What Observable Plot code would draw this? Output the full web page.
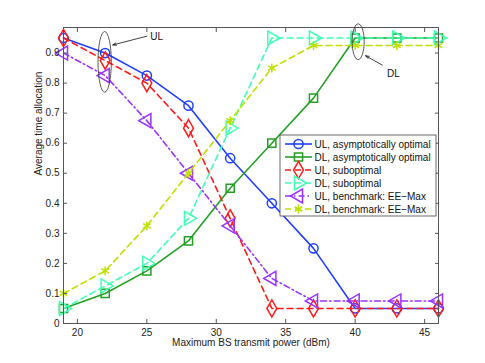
<!DOCTYPE html>
<html>
<head>
<meta charset="utf-8">
<script src="https://cdn.jsdelivr.net/npm/d3@7"></script>
<script src="https://cdn.jsdelivr.net/npm/@observablehq/plot@0.6"></script>
<style>
  html, body { margin: 0; padding: 0; background: #fff; }
  #chart { width: 485px; height: 363px; }
</style>
</head>
<body>
<div id="chart"></div>
<script>
// ---- data ----
const power = [19, 22, 25, 28, 31, 34, 37, 40, 43, 46];
const ulAsym   = [0.95, 0.90, 0.825, 0.725, 0.55, 0.40, 0.25, 0.05, 0.05, 0.05];
const dlAsym   = [0.05, 0.10, 0.175, 0.275, 0.45, 0.60, 0.75, 0.95, 0.95, 0.95];
const ulSub    = [0.95, 0.875, 0.80, 0.65, 0.35, 0.05, 0.05, 0.05, 0.05, 0.05];
const dlSub    = [0.05, 0.125, 0.20, 0.35, 0.65, 0.95, 0.95, 0.95, 0.95, 0.95];
const ulBench  = [0.90, 0.825, 0.675, 0.50, 0.325, 0.15, 0.075, 0.075, 0.075, 0.075];
const dlBench  = [0.10, 0.175, 0.325, 0.50, 0.675, 0.85, 0.925, 0.925, 0.925, 0.925];
const seriesNames = [
  "UL, asymptotically optimal",
  "DL, asymptotically optimal",
  "UL, suboptimal",
  "DL, suboptimal",
  "UL, benchmark: EE\u2212Max",
  "DL, benchmark: EE\u2212Max"
];
const xTicks = [20, 25, 30, 35, 40, 45];
const yTicks = [0, 0.1, 0.2, 0.3, 0.4, 0.5, 0.6, 0.7, 0.8, 0.9];
const xLabel = "Maximum BS transmit power (dBm)";
const yLabel = "Average time allocation";
// annotations: ellipse centre / radii in data units, arrows, labels
const ellipseCx = [22, 40.25];
const ellipseCy = [0.869, 0.936];
const ellipseRx = [0.48, 0.44];
const ellipseRy = [0.101, 0.06];
const arrowX1 = [25.0, 41.95];
const arrowY1 = [0.956, 0.86];
const arrowX2 = [22.55, 40.75];
const arrowY2 = [0.927, 0.891];
const annoText = ["UL", "DL"];
const annoX = [25.25, 42.3];
const annoY = [0.955, 0.83];

// ---- styles ----
const colors = ["#2040ff", "#23a023", "#ff1a1a", "#40ffb4", "#9a33ff", "#bfe000"];
const dashes = [null, null, "6,4", "6,4", "6,3,1.5,3", "6,4"];
const symbols = ["circle", "square", "diamond", "triangle", "triangle", "asterisk"];
const rotations = [0, 0, 0, 90, -90, 0];
const radii = [4.6, 4.6, 5.2, 5.2, 5.2, 4.2];

const allSeries = [ulAsym, dlAsym, ulSub, dlSub, ulBench, dlBench];
const tables = allSeries.map((vals, i) =>
  power.map((p, j) => ({x: p, y: vals[j], s: seriesNames[i]})));

const font = "Liberation Sans, Arial, Helvetica, sans-serif";
const frameColor = "#555";

const marks = [];
tables.forEach((rows, i) => {
  marks.push(Plot.line(rows, {x: "x", y: "y", stroke: colors[i], strokeWidth: 1.6,
    strokeDasharray: dashes[i] || undefined}));
  marks.push(Plot.dot(rows, {x: "x", y: "y", symbol: symbols[i], r: radii[i],
    stroke: colors[i], fill: "none", strokeWidth: 1.5, rotate: rotations[i]}));
});

const annoRows = annoText.map((t, i) => ({t, x: annoX[i], y: annoY[i],
  x1: arrowX1[i], y1: arrowY1[i], x2: arrowX2[i], y2: arrowY2[i]}));

const chart = Plot.plot({
  width: 485,
  height: 363,
  marginLeft: 63,
  marginRight: 47,
  marginTop: 27,
  marginBottom: 40,
  style: {fontFamily: font, fontSize: "10px", background: "#fff", color: "#222"},
  x: {domain: [19, 46], axis: null},
  y: {domain: [0, 0.985], axis: null},
  marks: [
    ...marks,
    Plot.arrow(annoRows, {x1: "x1", y1: "y1", x2: "x2", y2: "y2", stroke: "#111",
      strokeWidth: 0.8, headLength: 7, headAngle: 40}),
    Plot.text(annoRows, {x: "x", y: "y", text: "t", textAnchor: "start", fontSize: 10, fill: "#111"}),
    Plot.frame({stroke: frameColor, strokeWidth: 1}),
    // tick labels
    Plot.axisX({ticks: xTicks, tickSize: 0, tickPadding: 5, label: null, anchor: "bottom", fontSize: 10}),
    Plot.axisY({ticks: yTicks, tickSize: 0, tickPadding: 4, label: null, anchor: "left",
      tickFormat: d3.format(""), fontSize: 10}),
    // inward ticks on all four sides
    Plot.axisX({ticks: xTicks, tickSize: 4, dy: -4, anchor: "bottom", tickFormat: () => "", label: null, stroke: frameColor}),
    Plot.axisX({ticks: xTicks, tickSize: 4, dy: 4, anchor: "top", tickFormat: () => "", label: null, stroke: frameColor}),
    Plot.axisY({ticks: yTicks, tickSize: 4, dx: 4, anchor: "left", tickFormat: () => "", label: null, stroke: frameColor}),
    Plot.axisY({ticks: yTicks, tickSize: 4, dx: -4, anchor: "right", tickFormat: () => "", label: null, stroke: frameColor}),
    // axis titles
    Plot.text([xLabel], {frameAnchor: "bottom", lineAnchor: "middle", dy: 19.5, fontSize: 10, fill: "#222"}),
    Plot.text([yLabel], {frameAnchor: "left", lineAnchor: "middle", dx: -25, rotate: -90, fontSize: 10, fill: "#222"})
  ]
});

document.getElementById("chart").appendChild(chart);

// ---- post-render: ellipses and legend using Plot's scales ----
const sx = chart.scale("x"), sy = chart.scale("y");
const X = v => sx.apply(v), Y = v => sy.apply(v);
const svg = d3.select(chart);

const eg = svg.append("g");
ellipseCx.forEach((cx, i) => {
  eg.append("ellipse")
    .attr("cx", X(cx)).attr("cy", Y(ellipseCy[i]))
    .attr("rx", X(cx + ellipseRx[i]) - X(cx))
    .attr("ry", Y(ellipseCy[i] - ellipseRy[i]) - Y(ellipseCy[i]))
    .style("fill", "none").style("stroke", "#333").style("stroke-width", 0.8);
});

// legend box anchored to the frame's right side
const frameRight = X(46), frameTop = Y(0.985);
const lw = 156, lh = 81;
const lx = frameRight - 2 - lw, ly = frameTop + 108;
const lg = svg.append("g").attr("font-family", font).attr("font-size", 10)
  .attr("text-anchor", "start");
lg.append("rect").attr("x", lx).attr("y", ly).attr("width", lw).attr("height", lh)
  .style("fill", "#fff").style("stroke", "#444").style("stroke-width", 0.8);
const symMap = {circle: d3.symbolCircle, square: d3.symbolSquare, diamond: d3.symbolDiamond,
  triangle: d3.symbolTriangle, asterisk: d3.symbolAsterisk};
seriesNames.forEach((name, i) => {
  const cy = ly + 9 + i * 13;
  const ln = lg.append("line").attr("x1", lx + 5).attr("x2", lx + 32).attr("y1", cy).attr("y2", cy)
    .style("stroke", colors[i]).style("stroke-width", 1.6);
  if (dashes[i]) ln.style("stroke-dasharray", dashes[i]);
  lg.append("path")
    .attr("d", d3.symbol(symMap[symbols[i]], Math.PI * radii[i] * radii[i])())
    .attr("transform", `translate(${lx + 18.5},${cy}) rotate(${rotations[i]})`)
    .style("fill", "none").style("stroke", colors[i]).style("stroke-width", 1.5);
  lg.append("text").attr("x", lx + 34.5).attr("y", cy).attr("dy", "0.35em")
    .attr("text-anchor", "start").style("fill", "#111").text(name);
});
</script>
</body>
</html>
